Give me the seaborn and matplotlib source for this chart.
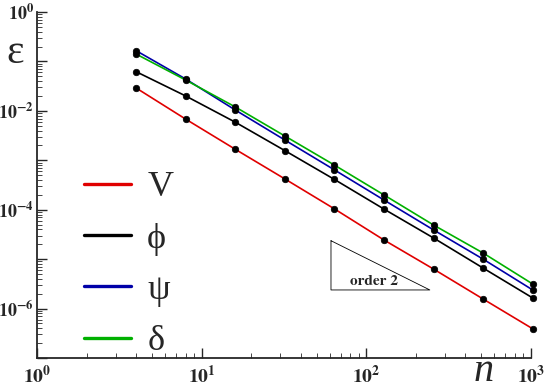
import numpy as np
import pandas as pd
import matplotlib
matplotlib.use("Agg")
import matplotlib.pyplot as plt
import seaborn as sns
from matplotlib.lines import Line2D
from matplotlib.ticker import LogLocator, NullFormatter

# grid sizes and errors
n_vals = [4, 8, 16, 32, 64, 128, 256, 512, 1024]
err_V = [2.9e-2, 6.8e-3, 1.67e-3, 4.2e-4, 1.04e-4, 2.44e-5, 6.3e-6, 1.56e-6, 3.9e-7]
err_phi = [6.2e-2, 2.0e-2, 5.9e-3, 1.57e-3, 4.1e-4, 1.03e-4, 2.68e-5, 6.6e-6, 1.64e-6]
err_psi = [0.165, 4.4e-2, 1.04e-2, 2.57e-3, 6.4e-4, 1.57e-4, 3.9e-5, 1.0e-5, 2.38e-6]
err_delta = [0.141, 4.2e-2, 1.2e-2, 3.1e-3, 8.0e-4, 1.99e-4, 4.9e-5, 1.33e-5, 3.14e-6]

series_names = ["V", "\u03d5", "\u03c8", "\u03b4"]
series_colors = ["#e00000", "#000000", "#0000a8", "#00b000"]

# order-2 reference triangle
tri_n = [61, 61, 243, 61]
tri_eps = [2.36e-5, 2.38e-6, 2.38e-6, 2.36e-5]

x_ticks = [1, 10, 100, 1000]
x_labels = [r"$\mathdefault{10^{0}}$", r"$\mathdefault{10^{1}}$", r"$\mathdefault{10^{2}}$",
            r"$\mathdefault{10^{3}}$"]
y_ticks = [1, 1e-1, 1e-2, 1e-3, 1e-4, 1e-5, 1e-6, 1e-7]
y_labels = [r"$\mathdefault{10^{0}}$", "", r"$\mathdefault{10^{-2}}$", "",
            r"$\mathdefault{10^{-4}}$", "", r"$\mathdefault{10^{-6}}$", ""]

df = pd.DataFrame({
    "n": n_vals * 4,
    "err": err_V + err_phi + err_psi + err_delta,
    "var": sum([[s] * len(n_vals) for s in series_names], []),
})

sns.set_style("ticks")
plt.rcParams["font.family"] = ["Liberation Serif", "DejaVu Serif"]
plt.rcParams["mathtext.fontset"] = "stix"

fig = plt.figure(figsize=(5.45, 3.88), dpi=100)
ax = fig.add_axes([37 / 545, 1 - 358 / 388, 494 / 545, 346 / 388])

sns.lineplot(data=df, x="n", y="err", hue="var", palette=dict(zip(series_names, series_colors)),
             linewidth=1.2, legend=False, ax=ax, clip_on=False)
sns.scatterplot(data=df, x="n", y="err", color="black", s=22, edgecolor="black",
                linewidth=0.5, legend=False, ax=ax, zorder=5, clip_on=False)

ax.plot(tri_n, tri_eps, color="black", linewidth=0.6)
ax.text(np.sqrt(tri_n[0] * tri_n[2]) * 0.91, 3.6e-6, "order 2", fontsize=11,
        family="STIXGeneral", fontweight="bold", ha="center", va="center")

ax.set_xscale("log")
ax.set_yscale("log")
ax.set_xlim(1, 1000)
ax.set_ylim(1e-7, 1)

ax.set_xticks(x_ticks, labels=x_labels)
ax.set_yticks(y_ticks, labels=y_labels)
for lab in ax.get_xticklabels() + ax.get_yticklabels():
    lab.set_family("STIXGeneral")
    lab.set_fontweight("bold")
ax.xaxis.set_minor_locator(LogLocator(base=10, subs=np.arange(2, 10)))
ax.yaxis.set_minor_locator(LogLocator(base=10, subs=np.arange(2, 10)))
ax.xaxis.set_minor_formatter(NullFormatter())
ax.yaxis.set_minor_formatter(NullFormatter())
ax.tick_params(which="major", direction="in", length=7, width=1)
ax.tick_params(axis="x", which="major", pad=5, labelsize=14)
ax.tick_params(axis="y", which="major", pad=2, labelsize=13)
ax.tick_params(which="minor", direction="in", length=3.5, width=0.6)

sns.despine(ax=ax)
ax.spines["left"].set_linewidth(1.3)
ax.spines["bottom"].set_linewidth(1.3)
ax.set_xlabel("")
ax.set_ylabel("")

fig.text(15 / 545, 1 - 53 / 388, "\u03b5", fontsize=30, ha="center", va="center")
fig.text(484 / 545, 1 - 381 / 388, "n", fontsize=29, style="italic", ha="center",
         va="baseline")

handles = [Line2D([], [], color=c, linewidth=2.4) for c in series_colors]
ax.legend(handles, series_names, frameon=False, fontsize=26, handlelength=1.3,
          handletextpad=0.45, labelspacing=0.5, borderpad=0, borderaxespad=0,
          loc="upper left", bbox_to_anchor=(84 / 545, 1 - 171 / 388),
          bbox_transform=fig.transFigure)

fig.savefig("out.png", dpi=100)
